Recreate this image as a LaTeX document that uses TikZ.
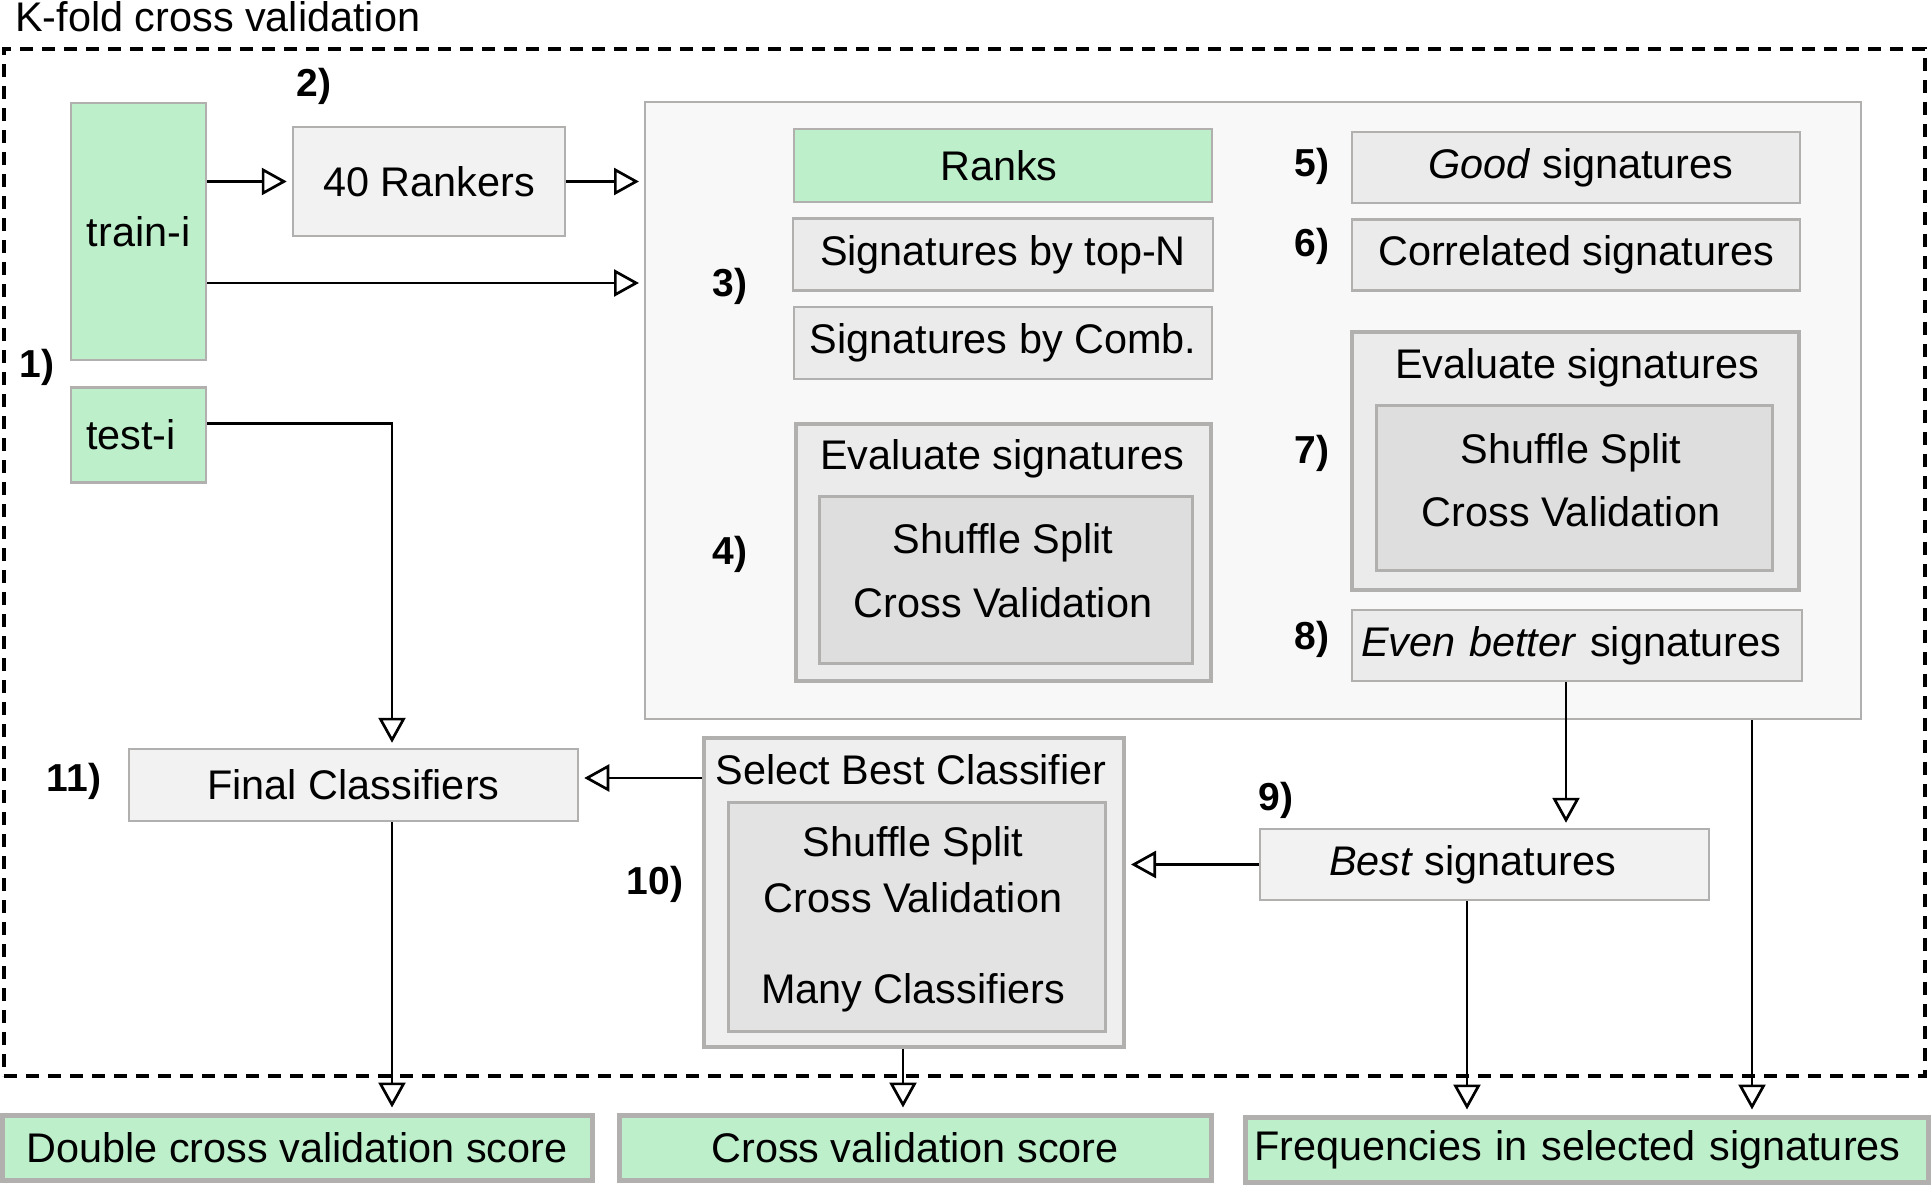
\documentclass[tikz,border=0pt]{standalone}
\usepackage{fontspec}
\setmainfont{Liberation Sans}
\usepackage{tikz}
\usetikzlibrary{arrows.meta, positioning}

\definecolor{boxline}{HTML}{B2AFAF}
\definecolor{greenfill}{HTML}{BDEFCB}
\definecolor{panelfill}{HTML}{F8F8F8}
\definecolor{lightfill}{HTML}{F2F2F2}
\definecolor{sigfill}{HTML}{EBEBEB}
\definecolor{innerfill}{HTML}{DEDEDE}
\definecolor{selfill}{HTML}{EFEFEF}
\definecolor{selinner}{HTML}{E3E3E3}

\begin{document}
\begin{tikzpicture}[
  x=1pt, y=-1pt,
  font=\fontsize{41.4pt}{48pt}\selectfont,
  base_box/.style={rectangle, draw=boxline, line width=2.5pt, inner sep=0pt, align=center},
  data_box/.style={base_box, fill=greenfill},
  light_box/.style={base_box, fill=lightfill},
  sig_box/.style={base_box, fill=sigfill},
  group_box/.style={base_box, fill=sigfill, line width=4pt},
  inner_box/.style={base_box, fill=innerfill, line width=3pt},
  result_box/.style={base_box, fill=greenfill, line width=5pt},
  step_label/.style={inner sep=0pt, font=\fontsize{39pt}{44pt}\selectfont\bfseries},
  plain_text/.style={inner sep=0pt, align=center},
  fold_frame/.style={draw=black, line width=3.5pt, dash pattern=on 13pt off 9pt},
  arrow/.style={-{Triangle[open, length=25pt, width=27pt]}, line width=2.7pt, shorten >=5pt}
]
\useasboundingbox (0,0) rectangle (1931,1185);

% Fold frame
\node[inner sep=0pt, anchor=base west] (fold_title) at (15,32) {K-fold cross validation};
\node[fold_frame, inner sep=0pt, minimum width=1921pt, minimum height=1027pt] (fold) at (964.5,562.5) {};

% Inputs
\node[data_box, minimum width=135pt, minimum height=257pt] (train_i) at (138.5,231.5) {train-i};
\node[data_box, minimum width=135pt, minimum height=95pt, inner xsep=15pt, text width=105pt, align=left, below=25pt of train_i] (test_i) {test-i};
\node[light_box, minimum width=272pt, minimum height=109pt] (rankers) at (429,181.5) {40 Rankers};

% Signature panel
\node[base_box, fill=panelfill, line width=2pt, minimum width=1216pt, minimum height=617pt] (sig_panel) at (1253,410.5) {};
\node[data_box, minimum width=418pt, minimum height=73pt] (ranks) at (1003,165.5) {Ranks\hspace*{8pt}};
\node[sig_box, minimum width=420pt, minimum height=72pt, below=14pt of ranks] (top_n) {Signatures by top-N};
\node[sig_box, minimum width=418pt, minimum height=72pt, below=14pt of top_n] (comb) {Signatures by Comb.};

\node[group_box, minimum width=415pt, minimum height=257pt] (eval_a) at (1003.5,552.5) {};
\node[plain_text] (eval_a_title) at (1002,459) {Evaluate signatures};
\node[inner_box, minimum width=373pt, minimum height=167pt] (eval_a_cv) at (1005.5,579.5) {};
\node[plain_text] (eval_a_txt) at (1003,571) {Shuffle Split\\[16pt]Cross Validation};

\node[sig_box, minimum width=448pt, minimum height=71pt] (good_sig) at (1576,167.5) {\hspace*{10pt}\textit{Good} signatures};
\node[sig_box, minimum width=448pt, minimum height=71pt, below=14pt of good_sig] (corr_sig) {Correlated signatures};

\node[group_box, minimum width=447pt, minimum height=258pt] (eval_b) at (1575.5,461) {};
\node[plain_text] (eval_b_title) at (1577,368) {Evaluate signatures};
\node[inner_box, minimum width=396pt, minimum height=165pt] (eval_b_cv) at (1574,487.5) {};
\node[plain_text] (eval_b_txt) at (1571,480) {Shuffle Split\\[15pt]Cross Validation};

\node[sig_box, minimum width=450pt, minimum height=71pt, inner xsep=9pt, text width=432pt, align=left] (better_sig) at (1577,645.5) {\textit{Even better} signatures};

% Classifiers
\node[light_box, minimum width=449pt, minimum height=71pt] (best_sig) at (1484.5,864.5) {\textit{Best} signatures\hspace*{24pt}};
\node[base_box, fill=selfill, line width=4pt, minimum width=420pt, minimum height=309pt] (select_box) at (914,892.5) {};
\node[plain_text] (select_title) at (911,770) {Select Best Classifier};
\node[base_box, fill=selinner, line width=3pt, minimum width=377pt, minimum height=229pt] (select_cv) at (916.5,916.5) {};
\node[plain_text] (select_txt) at (913,919) {Shuffle Split\\[8pt]Cross Validation\\[43pt]Many Classifiers};
\node[light_box, minimum width=449pt, minimum height=72pt] (final_clf) at (353.5,785) {Final Classifiers};

% Results
\node[result_box, minimum width=590pt, minimum height=65pt] (out_double) at (297,1147.5) {Double cross validation score};
\node[result_box, minimum width=592pt, minimum height=65pt] (out_cv) at (915,1147.5) {Cross validation score};
\node[result_box, minimum width=683pt, minimum height=65pt, inner xsep=9pt, text width=665pt, align=left] (out_freq) at (1586.5,1149.5) {Frequencies in selected signatures};

% Step numbers
\node[step_label] (s1) at (37,367) {1)};
\node[step_label] (s2) at (314,86) {2)};
\node[step_label] (s3) at (730,286) {3)};
\node[step_label] (s4) at (730,554) {4)};
\node[step_label] (s5) at (1312,166) {5)};
\node[step_label] (s6) at (1312,246) {6)};
\node[step_label] (s7) at (1312,453) {7)};
\node[step_label] (s8) at (1312,639) {8)};
\node[step_label] (s9) at (1276,800) {9)};
\node[step_label] (s10) at (655,884) {10)};
\node[step_label] (s11) at (74,781) {11)};

% Arrows
\coordinate (train_out) at ([yshift=-51.5pt]train_i.east);
\coordinate (sel_level) at ([yshift=7pt]final_clf.east);
\draw[arrow] (rankers.west -| train_i.east) -- (rankers.west);
\draw[arrow] (rankers.east) -- (rankers.east -| sig_panel.west);
\draw[arrow] (train_out) -- (train_out -| sig_panel.west);
\draw[arrow] ([yshift=11.5pt]test_i.east) -| ([xshift=38.5pt]final_clf.north);
\draw[arrow] ([xshift=-11pt]better_sig.south) -- ([xshift=81.5pt]best_sig.north);
\draw[arrow] (best_sig.west) -- (best_sig.west -| select_box.east);
\draw[arrow] (sel_level -| select_box.west) -- (sel_level);
\draw[arrow] ([xshift=38.5pt]final_clf.south) -- ([xshift=95pt]out_double.north);
\draw[arrow] ([xshift=-11pt]select_box.south) -- ([xshift=-12pt]out_cv.north);
\draw[arrow] ([xshift=-17.5pt]best_sig.south) -- ([xshift=-119.5pt]out_freq.north);
\draw[arrow] ([xshift=499pt]sig_panel.south) -- ([xshift=165.5pt]out_freq.north);

\end{tikzpicture}
\end{document}
